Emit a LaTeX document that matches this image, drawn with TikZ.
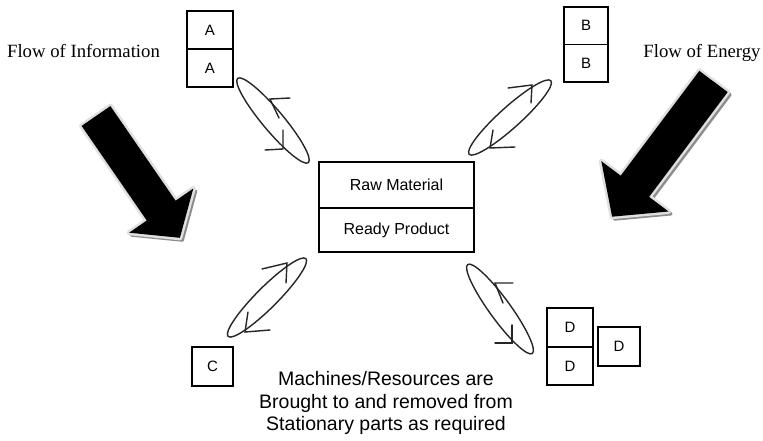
\documentclass[tikz,border=0pt]{standalone}
\usepackage{fontspec}
\setmainfont{Liberation Serif}
\setsansfont{Liberation Sans}
\usetikzlibrary{shapes.geometric}
\begin{document}
\begin{tikzpicture}[x=1pt,y=-1pt,
  cellbox/.style={draw, line width=1.3pt, inner sep=0pt, font=\sffamily\fontsize{15}{17}\selectfont},
  loopell/.style={draw=black!85, line width=1.4pt, ellipse, minimum width=110pt, minimum height=21pt, inner sep=0pt},
  vtip/.style={draw=black!85, line width=1.4pt, line cap=round, line join=miter},
  arrowglow/.style={draw=black!12, fill=black!12, line width=5pt, line join=round},
  arrowshadow/.style={draw=black!45, fill=black!45, line width=3pt, line join=round},
  flowtext/.style={font=\rmfamily\fontsize{18.7}{22}\selectfont, anchor=base, inner sep=0pt},
  bottomtext/.style={font=\sffamily\fontsize{19.5}{22}\selectfont, anchor=base, inner sep=0pt},
]
\useasboundingbox[fill=white] (0,0) rectangle (763,440);

% big arrows
\begin{scope}[shift={(2.5,2.5)}]
\filldraw[arrowshadow] (110.4,106.1) -- (175.6,200.7) -- (193.3,188.5) -- (179.9,237.8) -- (129.1,232.7) -- (146.8,220.5) -- (81.6,125.9) -- cycle;
\filldraw[arrowshadow] (727.7,92.1) -- (649.1,196.9) -- (668.5,211.5) -- (612.1,216.7) -- (601.3,161.1) -- (620.7,175.7) -- (699.3,70.9) -- cycle;
\end{scope}
\filldraw[arrowglow] (110.4,106.1) -- (175.6,200.7) -- (193.3,188.5) -- (179.9,237.8) -- (129.1,232.7) -- (146.8,220.5) -- (81.6,125.9) -- cycle;
\filldraw[arrowglow] (727.7,92.1) -- (649.1,196.9) -- (668.5,211.5) -- (612.1,216.7) -- (601.3,161.1) -- (620.7,175.7) -- (699.3,70.9) -- cycle;
\fill[black] (110.4,106.1) -- (175.6,200.7) -- (193.3,188.5) -- (179.9,237.8) -- (129.1,232.7) -- (146.8,220.5) -- (81.6,125.9) -- cycle;
\fill[black] (727.7,92.1) -- (649.1,196.9) -- (668.5,211.5) -- (612.1,216.7) -- (601.3,161.1) -- (620.7,175.7) -- (699.3,70.9) -- cycle;

% labels
\node[flowtext] (fi) at (83.5,57) {Flow of Information};
\node[flowtext] (fe) at (702,57) {Flow of Energy};

% boxes
\node[cellbox, minimum width=46pt, minimum height=38pt] (A1) at (210,30) {A};
\node[cellbox, minimum width=46pt, minimum height=38pt] (A2) at (210,68) {A};
\node[cellbox, minimum width=44pt, minimum height=37.5pt] (B1) at (586,25.75) {B};
\node[cellbox, minimum width=44pt, minimum height=37.5pt] (B2) at (586,63.25) {B};
\node[cellbox, minimum width=41pt, minimum height=39pt] (C) at (212.5,366.5) {C};
\node[cellbox, minimum width=46pt, minimum height=39pt] (D1) at (570,327.5) {D};
\node[cellbox, minimum width=46pt, minimum height=38pt] (D2) at (570,366) {D};
\node[cellbox, minimum width=42pt, minimum height=39pt] (D3) at (619,346.5) {D};
\node[cellbox, font=\sffamily\fontsize{16}{18}\selectfont, minimum width=155pt, minimum height=46pt] (R1) at (396.5,185) {Raw Material};
\node[cellbox, font=\sffamily\fontsize{16}{18}\selectfont, minimum width=155pt, minimum height=44pt] (R2) at (396.5,230) {Ready Product};

% loops
\node[loopell, rotate=-50] (eA) at (273,120.5) {};
\node[loopell, rotate=42] (eB) at (510,117.5) {};
\node[loopell, rotate=45] (eC) at (267,297.5) {};
\node[loopell, rotate=-54] (eD) at (500,309) {};

\draw[vtip] (290,98) -- (270,99) -- (279,118);
\draw[vtip] (283,130) -- (283,149) -- (265,150);
\draw[vtip] (508,88) -- (532,85) -- (531,103);
\draw[vtip] (493,130) -- (490,148) -- (515,147);
\draw[vtip] (262,269) -- (287,263) -- (286,283);
\draw[vtip] (248,312) -- (245,332) -- (270,330);
\draw[vtip] (513,283) -- (495,283) -- (503,303);
\draw[vtip] (512,325) -- (512,343) -- (495,343);

% bottom text
\node[bottomtext] (t1) at (386,385) {Machines/Resources are};
\node[bottomtext] (t2) at (386,408) {Brought to and removed from};
\node[bottomtext] (t3) at (386,430) {Stationary parts as required};
\end{tikzpicture}
\end{document}
